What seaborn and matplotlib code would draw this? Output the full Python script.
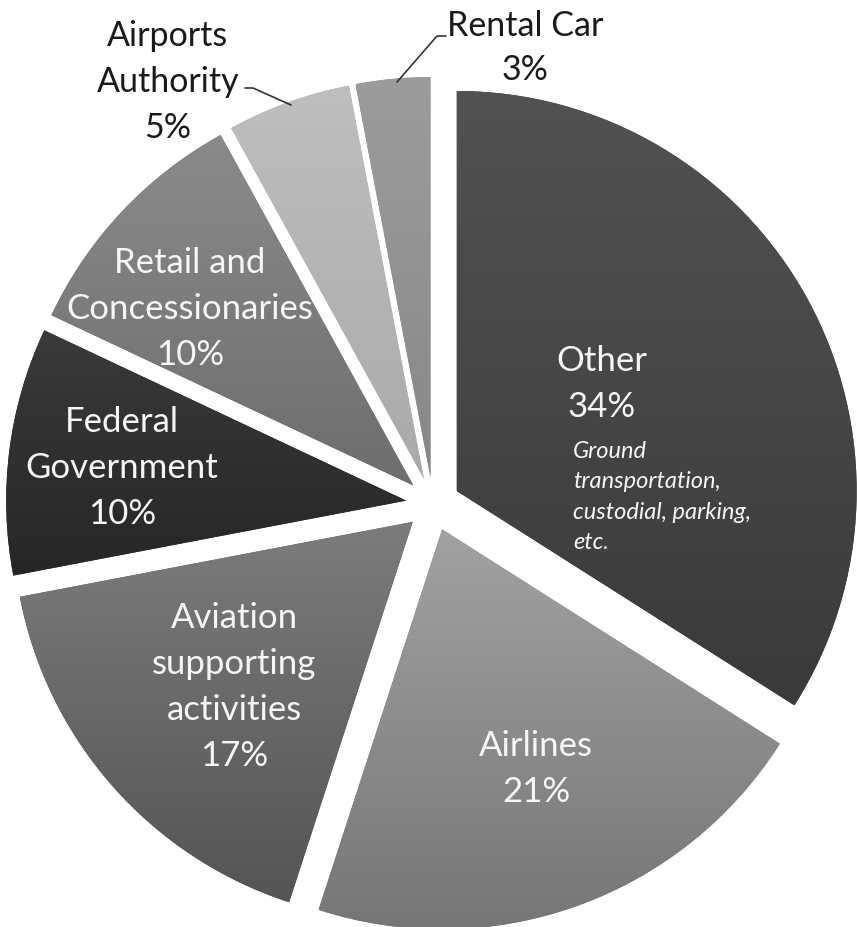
import numpy as np
import matplotlib.pyplot as plt
import seaborn as sns
from matplotlib.colors import LinearSegmentedColormap

# slices, clockwise from 12 o'clock
categories = ["Other", "Airlines", "Aviation\nsupporting\nactivities",
              "Federal\nGovernment", "Retail and\nConcessionaries",
              "Airports\nAuthority", "Rental Car"]
shares = [34, 21, 17, 10, 10, 5, 3]
other_note = "Ground\ntransportation,\ncustodial, parking,\netc."

# grey gradient per slice (top, bottom)
top_cols = ["#525252", "#a2a2a2", "#7c7c7c", "#3a3a3a", "#8a8a8a", "#bebebe", "#9c9c9c"]
bot_cols = ["#3a3a3a", "#767676", "#545454", "#262626", "#6e6e6e", "#aaaaaa", "#888888"]

sns.set_theme(style="white")
plt.rcParams['font.family'] = ['Lato', 'DejaVu Sans']

W, H = 857, 928
R = 400.0


def P(x, y):
    # picture pixels -> data units (radius = 1)
    return x / R, (H - y) / R


fig = plt.figure(figsize=(W / 100, H / 100), dpi=100)
ax = fig.add_axes([0, 0, 1, 1])

wedges, _ = ax.pie(shares, radius=1, center=P(433, 505), startangle=90,
                   counterclock=False, explode=[27 / R] * len(shares),
                   colors=bot_cols, wedgeprops=dict(linewidth=0))

grad = np.linspace(0, 1, 256).reshape(-1, 1)
for w, c0, c1 in zip(wedges, bot_cols, top_cols):
    cx, cy = w.center
    t = np.radians(np.linspace(w.theta1, w.theta2, 100))
    xs = np.r_[cx, cx + w.r * np.cos(t)]
    ys = np.r_[cy, cy + w.r * np.sin(t)]
    cm = LinearSegmentedColormap.from_list("g", [c0, c1])
    im = ax.imshow(grad, cmap=cm, origin="lower", aspect="auto",
                   extent=(xs.min(), xs.max(), ys.min(), ys.max()),
                   interpolation="bicubic", zorder=2)
    im.set_clip_path(w)

# label block centres (pixels)
label_pos = [(602, 384), (536, 769), (234, 687), (122, 468), (190, 309), (168, 82), (525, 48)]
inside = [True, True, True, True, True, False, False]
spacing = [1.54, 1.54, 1.54, 1.54, 1.54, 1.54, 1.44]

for name, val, (x, y), ins, ls in zip(categories, shares, label_pos, inside, spacing):
    ax.text(*P(x, y), f"{name}\n{val}%", ha="center", va="center",
            fontsize=25 if ins else 24.5, linespacing=ls, zorder=5,
            color="#f6f6f6" if ins else "#1a1a1a")

ax.text(*P(573, 497), other_note, ha="left", va="center", fontsize=17,
        style="italic", linespacing=1.53, color="#f6f6f6", zorder=5)

# leader lines for the outside labels
for pts in ([(245, 89), (253, 89), (291, 106)], [(446, 37), (437, 37), (397, 83)]):
    xy = np.array([P(*p) for p in pts])
    ax.plot(xy[:, 0], xy[:, 1], color="#333333", lw=1.2, zorder=5)

ax.set_xlim(0, W / R)
ax.set_ylim(0, H / R)
ax.set_aspect("equal")
ax.axis("off")

fig.savefig("out.png", dpi=100, facecolor="white")
